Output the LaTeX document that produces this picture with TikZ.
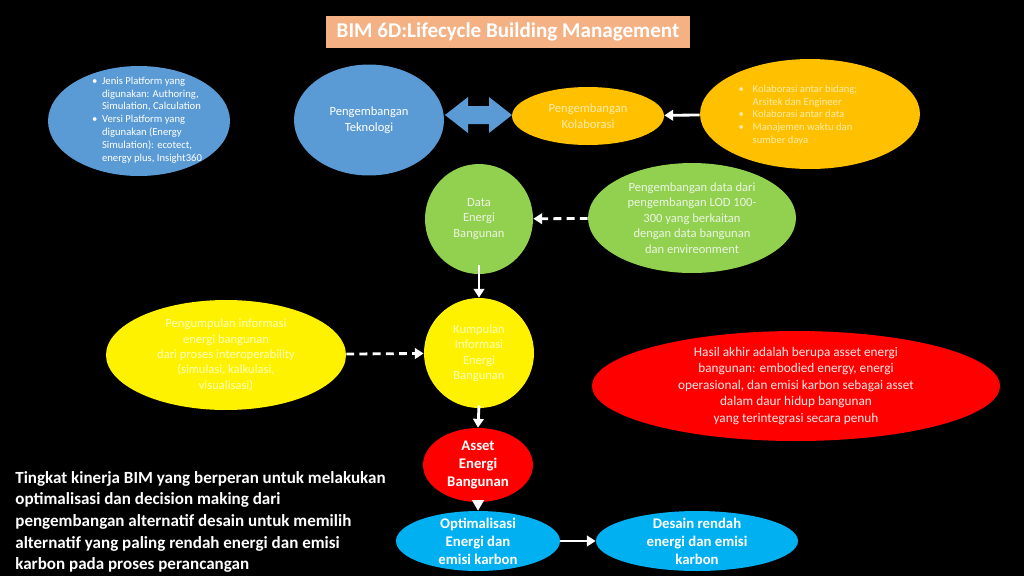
\documentclass[tikz,border=0pt]{standalone}
\usepackage{fontspec}
\setmainfont{Carlito}
\usetikzlibrary{shapes.geometric,arrows.meta,calc}
\tikzset{
  blob/.style={
    ellipse,
    inner sep=0pt
  },
  txt/.style={
    inner sep=0pt,
    align=center
  },
  txt-small/.style={
    txt,
    align=left,
    font=\fontsize{6.05pt}{7.3pt}\selectfont
  },
  txt-mid/.style={
    txt,
    font=\fontsize{7.15pt}{8.8pt}\selectfont
  },
  txt-bold/.style={
    txt,
    text=white,
    font=\bfseries\fontsize{8.4pt}{10.2pt}\selectfont
  },
  link/.style={
    draw=white,
    line width=1.6pt,
    -{Triangle[width=6pt,length=5pt]}
  },
  link-dash/.style={
    link,
    dash pattern=on 4.5pt off 3pt
  }
}
\definecolor{bimsalmon}{RGB}{244,177,131}
\definecolor{bimblue}{RGB}{91,155,213}
\definecolor{bimorange}{RGB}{255,192,0}
\definecolor{bimgreen}{RGB}{146,208,80}
\definecolor{bimcyan}{RGB}{0,176,240}
\definecolor{paleorange}{RGB}{255,236,170}
\definecolor{palegreen}{RGB}{236,246,226}
\definecolor{paleyellow}{RGB}{255,255,190}
\definecolor{palered}{RGB}{255,232,232}
\newcommand{\itm}{\makebox[5.7pt][l]{\textbullet}}
\newcommand{\ind}{\hspace*{5.7pt}}
\newcommand{\itmb}{\makebox[8pt][l]{\textbullet}}
\newcommand{\indb}{\hspace*{8pt}}

\begin{document}
\begin{tikzpicture}[x=0.02cm,y=-0.02cm]
  \fill[black] (0,0) rectangle (1024,576);
  \useasboundingbox (0,0) rectangle (1024,576);

  % title
  \node[fill=bimsalmon, minimum width=7.28cm, minimum height=0.64cm, inner sep=0pt,
        text=white, font=\bfseries\fontsize{12pt}{14pt}\selectfont] (title) at (508,32)
    {BIM 6D:Lifecycle Building Management};

  % top row
  \node[blob, fill=bimblue, minimum width=3.64cm, minimum height=2.2cm] (plat) at (139,121) {};
  \node[txt-small, text=white] (plat-txt) at (147,120)
    {\itm Jenis Platform yang\\\ind digunakan: Authoring,\\\ind Simulation, Calculation\\
     \itm Versi Platform yang\\\ind digunakan (Energy\\\ind Simulation): ecotect,\\\ind energy plus, Insight360};

  \node[blob, fill=bimblue, minimum width=3.0cm, minimum height=2.22cm] (tekno) at (369,120) {};
  \node[txt-mid, text=white] (tekno-txt) at (tekno) {Pengembangan\\Teknologi};

  \node[blob, fill=bimorange, minimum width=3.04cm, minimum height=1.16cm] (kolab) at (588,116) {};
  \node[txt-mid, text=paleorange] (kolab-txt) at (kolab) {Pengembangan\\Kolaborasi};

  \node[blob, fill=bimorange, minimum width=4.4cm, minimum height=2.2cm] (kolabinfo) at (810,114) {};
  \node[txt-small, text=paleorange] (kolabinfo-txt) at (798,115)
    {\itmb Kolaborasi antar bidang;\\\indb Arsitek dan Engineer\\
     \itmb Kolaborasi antar data\\
     \itmb Manajemen waktu dan\\\indb sumber daya};

  % double block arrow
  \coordinate (dl) at (445,115);
  \coordinate (dr) at (512,115);
  \fill[bimblue] (dl) -- ++(23,-18) -- ++(0,9) -- ($(dr)+(-23,-9)$) -- ++(0,-9) -- (dr)
    -- ++(-23,18) -- ++(0,-9) -- ($(dl)+(23,9)$) -- ++(0,9) -- cycle;

  % middle
  \node[blob, fill=bimgreen, minimum width=2.16cm, minimum height=2.2cm] (data) at (479,219) {};
  \node[txt-mid, text=palegreen] (data-txt) at (data) {Data\\Energi\\Bangunan};

  \node[blob, fill=bimgreen, minimum width=4.16cm, minimum height=2.2cm] (lod) at (692,218) {};
  \node[txt-mid, text=palegreen] (lod-txt) at (lod)
    {Pengembangan data dari\\pengembangan LOD 100-\\300 yang berkaitan\\dengan data bangunan\\dan envireonment};

  \node[blob, fill=yellow, minimum width=4.8cm, minimum height=2.2cm] (kumpul) at (226,355) {};
  \node[txt-mid, text=paleyellow] (kumpul-txt) at (kumpul)
    {Pengumpulan informasi\\energi bangunan\\dari proses interoperability\\(simulasi, kalkulasi,\\visualisasi)};

  \node[blob, fill=yellow, minimum width=2.2cm, minimum height=2.2cm] (info) at (479,353) {};
  \node[txt-mid, text=paleyellow] (info-txt) at (info) {Kumpulan\\Informasi\\Energi\\Bangunan};

  \node[blob, fill=red, minimum width=8.16cm, minimum height=2.2cm] (hasil) at (796,386) {};
  \node[txt, text=palered, font=\fontsize{7.55pt}{9.4pt}\selectfont] (hasil-txt) at (hasil)
    {Hasil akhir adalah berupa asset energi\\bangunan: embodied energy, energi\\
     operasional, dan emisi karbon sebagai asset\\dalam daur hidup bangunan\\yang terintegrasi secara penuh};

  % bottom
  \node[blob, fill=red, minimum width=2.2cm, minimum height=1.48cm] (asset) at (478,465) {};
  \node[txt-bold] (asset-txt) at (asset) {Asset\\Energi\\Bangunan};

  \node[blob, fill=bimcyan, minimum width=3.28cm, minimum height=1.2cm] (optim) at (478,541) {};
  \node[txt-bold] (optim-txt) at (optim) {Optimalisasi\\Energi dan\\emisi karbon};

  \node[blob, fill=bimcyan, minimum width=4.04cm, minimum height=1.2cm] (desain) at (697,541) {};
  \node[txt-bold] (desain-txt) at (desain) {Desain rendah\\energi dan emisi\\karbon};

  \node[txt, align=left, anchor=west, text=white,
        font=\bfseries\fontsize{9.7pt}{12.3pt}\selectfont] (kinerja) at (15,522)
    {Tingkat kinerja BIM yang berperan untuk melakukan\\
     optimalisasi dan decision making dari\\
     pengembangan alternatif desain untuk memilih\\
     alternatif yang paling rendah energi dan emisi\\
     karbon pada proses perancangan};

  % connectors
  \draw[link] (kolabinfo) -- (kolab);
  \draw[link-dash] (lod) -- (data);
  \draw[link] ([yshift=0.18cm]data.south) -- (info.north);
  \draw[link-dash] (kumpul) -- (info);
  \draw[link] ([yshift=0.06cm]info.south) -- (asset.north);
  \draw[link, line width=0pt, -{Triangle[width=7pt,length=6pt]}] ([yshift=-0.02cm]asset.south) -- (optim.north);
  \draw[link] (optim) -- (desain);
\end{tikzpicture}
\end{document}
